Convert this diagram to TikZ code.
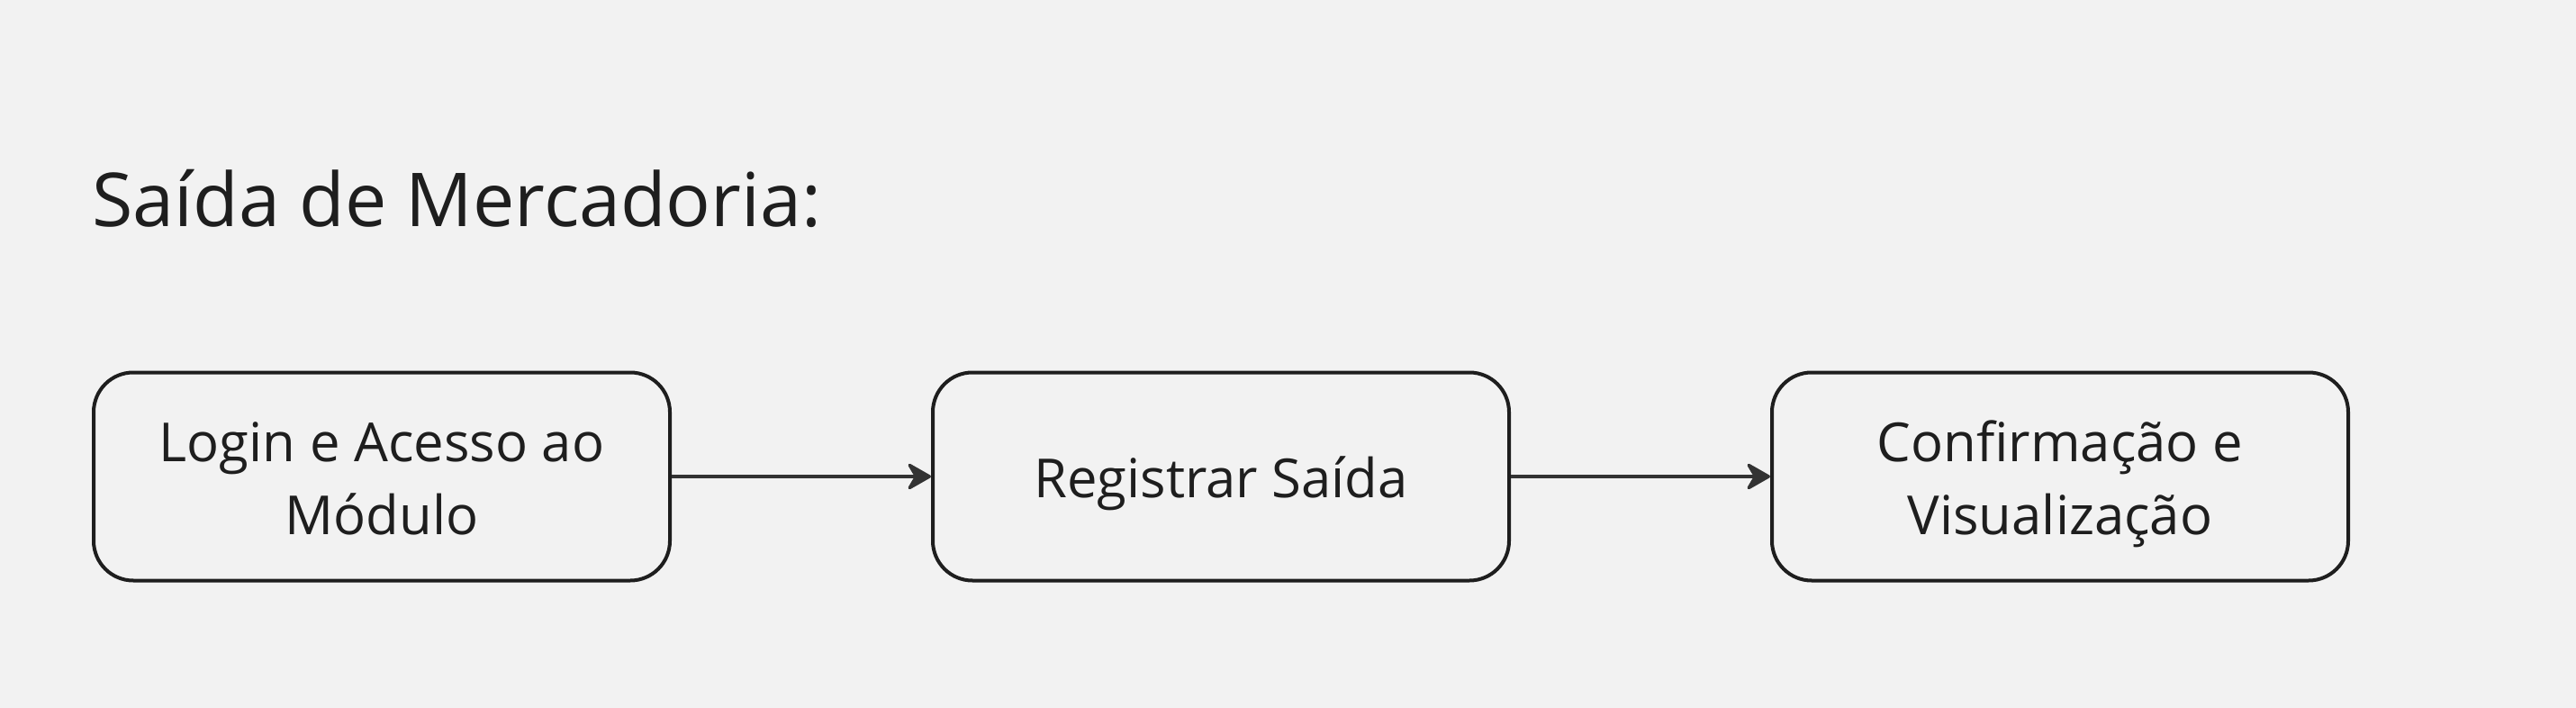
\documentclass[tikz,border=0pt]{standalone}
\usepackage{fontspec}
\setmainfont{Open Sans}
\usetikzlibrary{positioning,arrows.meta}
\definecolor{bgcol}{HTML}{F2F2F2}
\definecolor{inkcol}{HTML}{1E1E1E}
\definecolor{linecol}{HTML}{333333}
\newcommand{\boxstrut}{\rule[-8.3pt]{0pt}{40.3pt}}
\tikzset{
stagebox/.style={
  draw=inkcol, fill=bgcol, line width=2pt, rounded corners=22pt,
  minimum width=320pt, minimum height=115.5pt, align=center,
  text=inkcol, font=\fontsize{29.9}{40.5}\selectfont
  },
flowarrow/.style={
  draw=linecol, line width=1.7pt,
  -{Stealth[length=15pt,width=17pt,inset=5pt,round]}
  }
}

\begin{document}
\begin{tikzpicture}[node distance=144pt]
\useasboundingbox (0,0) rectangle (1430.5pt,-393pt);
\fill[bgcol] (0,0) rectangle (1430.5pt,-393pt);
\node[anchor=base west, inner sep=0, text=inkcol, font=\fontsize{41.3}{50}\selectfont] (title) at (51pt,-126pt) {Saída de Mercadoria:};
\node[stagebox] (login) at (212pt,-264.5pt) {\boxstrut Login e Acesso ao\\\boxstrut Módulo};
\node[stagebox, right=of login] (registro) {\boxstrut Registrar Saída};
\node[stagebox, right=of registro] (confirma) {\boxstrut Confirmação e\\\boxstrut Visualização};
\draw[flowarrow] (login) -- (registro);
\draw[flowarrow] (registro) -- (confirma);
\end{tikzpicture}
\end{document}
